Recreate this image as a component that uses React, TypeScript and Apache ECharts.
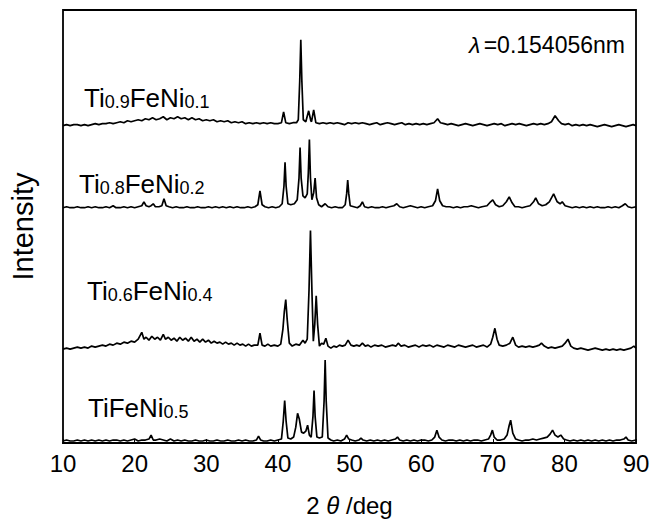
import React, { useEffect, useRef } from "react";
import * as echarts from "echarts";

const xTicks = [10, 20, 30, 40, 50, 60, 70, 80, 90];
const offsets = [321, 238, 95, 2];

const ti09: number[][] = [
[10,0],[10.5,1],[11,0],[11.5,1],[12,1],[12.5,0],[13,1],[13.5,0],[14,1],[14.5,2],[15,1],[15.5,2],[16,2],[16.5,3],[17,2],[17.5,3],[18,4],[18.5,3],[19,5],[19.5,4],[20,5],[20.5,6],[21,5],[21.5,7],[22,6],[22.5,8],[23,6],[23.5,7],[24,9],[24.5,6],[25,8],[25.5,7],[26,9],[26.5,7],[27,8],[27.5,6],[28,8],[28.5,6],[29,7],[29.5,5],[30,6],[30.5,5],[31,6],[31.5,4],[32,5],[32.5,4],[33,5],[33.5,3],[34,4],[34.5,3],[35,4],[35.5,2],[36,3],[36.5,2],[37,3],[37.5,2],[38,3],[38.5,2],[39,3],[39.5,2],[40,2],[40.5,3],[40.8,14],[41.1,3],[41.6,2],[42.1,3],[42.6,3],[42.85,6],[43.05,45],[43.2,87],[43.35,45],[43.55,6],[43.9,4],[44.3,15],[44.6,5],[44.7,4],[45.0,16],[45.3,3],[45.8,2],[46.3,3],[46.8,2],[47.3,3],[47.8,2],[48.3,3],[48.8,2],[49.3,1],[49.8,3],[50.3,2],[50.8,3],[51.3,2],[51.8,3],[52.3,2],[52.8,1],[53.3,2],[53.8,3],[54.3,1],[54.8,2],[55.3,3],[55.8,2],[56.3,1],[56.8,2],[57.3,3],[57.8,1],[58.3,2],[58.8,1],[59.3,2],[59.8,1],[60.3,2],[60.8,1],[61.3,2],[61.8,3],[62.3,7],[62.7,3],[63.2,2],[63.7,1],[64.2,2],[64.7,1],[65.2,0],[65.7,1],[66.2,2],[66.7,1],[67.2,0],[67.7,1],[68.2,2],[68.7,1],[69.2,0],[69.7,1],[70.2,2],[70.7,1],[71.2,2],[71.7,0],[72.2,1],[72.7,2],[73.2,1],[73.7,2],[74.2,1],[74.7,0],[75.2,1],[75.7,2],[76.2,1],[76.7,2],[77.2,1],[77.7,2],[78.2,4],[78.7,10],[79.2,5],[79.6,2],[80.1,1],[80.6,2],[81.1,0],[81.6,1],[82.1,0],[82.6,1],[83.1,0],[83.6,1],[84.1,0],[84.6,-1],[85.1,0],[85.6,1],[86.1,0],[86.6,-1],[87.1,0],[87.6,1],[88.1,0],[88.6,-1],[89.1,0],[89.6,1],[90,0]
];

const ti08: number[][] = [
[10,0],[10.5,1],[11,0],[11.5,0],[12,1],[12.5,0],[13,0],[13.5,1],[14,0],[14.5,1],[15,0],[15.5,0],[16,1],[16.5,0],[17,2],[17.4,0],[18,0],[18.5,1],[19,0],[19.5,1],[20,0],[20.5,1],[21,2],[21.3,6],[21.6,2],[22,1],[22.3,2],[22.6,4],[22.9,1],[23.4,1],[23.8,2],[24.1,9],[24.4,2],[24.8,1],[25.3,0],[25.8,1],[26.3,0],[26.8,0],[27.3,1],[27.8,0],[28.3,0],[28.8,1],[29.3,0],[29.8,0],[30.3,1],[30.8,0],[31.3,1],[31.8,0],[32.3,1],[32.8,0],[33.3,1],[33.8,0],[34.3,1],[34.8,0],[35.3,0],[35.8,1],[36.3,0],[36.8,1],[37.2,3],[37.5,17],[37.8,3],[38.2,1],[38.7,0],[39.2,1],[39.7,0],[40.2,1],[40.6,4],[40.85,22],[41.0,46],[41.15,22],[41.4,4],[41.8,3],[42.3,4],[42.7,8],[42.95,30],[43.1,61],[43.25,30],[43.5,12],[43.8,10],[44.1,14],[44.25,35],[44.4,69],[44.55,30],[44.75,8],[45.0,15],[45.2,30],[45.4,10],[45.7,3],[46.1,1],[46.6,4],[47.0,1],[47.5,0],[48,1],[48.5,0],[49.0,0],[49.4,3],[49.6,14],[49.75,28],[49.9,14],[50.1,2],[50.6,1],[51.1,0],[51.5,2],[51.8,6],[52.1,1],[52.6,0],[53.1,1],[53.6,0],[54.1,0],[54.6,1],[55.1,0],[55.6,1],[56.2,2],[56.6,4],[57.0,1],[57.5,0],[58.0,1],[58.5,2],[59.0,1],[59.5,0],[60,1],[60.5,0],[61,1],[61.6,2],[62.0,7],[62.3,19],[62.6,7],[63.0,2],[63.5,1],[64,1],[64.5,0],[65,1],[65.5,0],[66,1],[66.5,1],[67,2],[67.5,1],[68,0],[68.5,1],[69.2,2],[69.7,6],[70.0,8],[70.4,3],[70.9,1],[71.4,2],[71.9,6],[72.3,11],[72.7,5],[73.1,1],[73.6,1],[74.1,0],[74.6,1],[75.2,2],[75.7,6],[76.0,10],[76.4,4],[76.9,2],[77.4,3],[77.9,6],[78.5,14],[79.0,6],[79.4,4],[79.7,6],[80.1,2],[80.6,1],[81.1,0],[81.6,1],[82.1,0],[82.6,1],[83.1,0],[83.6,1],[84.1,0],[84.6,1],[85.1,0],[85.6,0],[86.1,1],[86.6,0],[87.1,1],[87.6,0],[88.1,2],[88.5,4],[88.9,1],[89.4,0],[90,1]
];

const ti06: number[][] = [
[10,0],[10.5,1],[11,0],[11.5,1],[12,2],[12.5,1],[13,2],[13.5,1],[14,3],[14.5,2],[15,3],[15.5,4],[16,3],[16.5,5],[17,4],[17.5,6],[18,5],[18.5,7],[19,6],[19.5,8],[20,7],[20.5,10],[21,17],[21.3,10],[21.6,12],[22,9],[22.4,13],[22.8,10],[23.2,12],[23.6,9],[24.0,15],[24.3,10],[24.7,12],[25.1,9],[25.5,11],[25.9,8],[26.3,12],[26.7,9],[27.1,11],[27.5,8],[27.9,12],[28.3,8],[28.7,10],[29.1,7],[29.5,10],[29.9,7],[30.3,9],[30.7,6],[31.1,8],[31.5,6],[31.9,7],[32.3,5],[32.7,7],[33.1,5],[33.5,6],[33.9,4],[34.3,6],[34.7,4],[35.1,5],[35.5,3],[35.9,5],[36.3,3],[36.7,4],[37.2,4],[37.5,16],[37.8,4],[38.2,3],[38.6,5],[39.0,3],[39.5,4],[40.0,3],[40.4,5],[40.7,20],[40.9,38],[41.1,50],[41.3,30],[41.6,6],[42.0,3],[42.5,5],[43.0,4],[43.5,9],[43.8,6],[44.1,10],[44.35,60],[44.55,120],[44.75,60],[44.95,8],[45.15,25],[45.35,54],[45.55,25],[45.8,3],[46.1,6],[46.4,5],[46.7,11],[47.0,3],[47.4,1],[47.8,3],[48.2,2],[48.6,4],[49.0,3],[49.4,4],[49.8,9],[50.2,4],[50.6,3],[51.0,4],[51.4,3],[51.8,6],[52.2,3],[52.6,4],[53.0,2],[53.5,4],[54.0,3],[54.5,4],[55.0,2],[55.5,3],[56.0,4],[56.5,3],[56.8,6],[57.2,3],[57.7,4],[58.2,2],[58.7,3],[59.2,4],[59.7,2],[60.2,4],[60.7,3],[61.2,4],[61.7,2],[62.2,4],[62.7,3],[63.2,2],[63.7,4],[64.2,3],[64.7,2],[65.2,4],[65.7,3],[66.2,2],[66.7,3],[67.2,4],[67.7,2],[68.2,3],[68.7,4],[69.2,2],[69.7,5],[70.0,12],[70.3,21],[70.6,10],[70.9,4],[71.4,3],[71.9,4],[72.4,6],[72.8,12],[73.2,4],[73.6,2],[74.1,3],[74.6,2],[75.1,3],[75.6,2],[76.1,3],[76.5,4],[76.8,6],[77.2,3],[77.7,1],[78.2,2],[78.7,1],[79.2,2],[79.7,3],[80.1,6],[80.5,10],[80.9,3],[81.3,1],[81.8,0],[82.3,1],[82.8,0],[83.3,-1],[83.8,0],[84.3,1],[84.8,0],[85.3,-1],[85.8,0],[86.3,-1],[86.8,0],[87.3,-1],[87.8,0],[88.3,-1],[88.8,0],[89.3,1],[89.7,3],[90,1]
];

const tifeni05: number[][] = [
[10,0],[10.5,1],[11,0],[11.5,0],[12,1],[12.5,0],[13,1],[13.5,0],[14,1],[14.5,0],[15,1],[15.5,0],[16,1],[16.5,0],[17,1],[17.5,1],[18,0],[18.5,1],[19,0],[19.5,1],[20,2],[20.5,0],[21,1],[21.5,1],[22,2],[22.3,6],[22.6,1],[23,1],[23.5,2],[24,1],[24.5,0],[25,2],[25.5,0],[26,1],[26.5,0],[27,1],[27.5,0],[28,0],[28.5,1],[29,0],[29.5,0],[30,1],[30.5,0],[31,0],[31.5,1],[32,0],[32.5,0],[33,1],[33.5,0],[34,0],[34.5,1],[35,0],[35.5,1],[36,0],[36.5,0],[37,1],[37.3,5],[37.6,1],[38,0],[38.5,0],[39,1],[39.5,0],[40,1],[40.5,2],[40.75,20],[40.95,41],[41.15,20],[41.4,3],[41.8,2],[42.2,4],[42.5,14],[42.75,28],[43.0,22],[43.3,9],[43.6,8],[43.9,10],[44.15,16],[44.4,6],[44.65,4],[44.9,25],[45.05,51],[45.2,25],[45.45,4],[45.8,3],[46.2,4],[46.45,40],[46.6,82],[46.75,40],[47.0,3],[47.4,1],[47.8,0],[48.3,1],[48.8,0],[49.3,2],[49.6,6],[49.9,2],[50.3,1],[50.8,0],[51.3,1],[51.6,3],[51.9,1],[52.4,0],[52.9,1],[53.4,0],[53.9,1],[54.4,0],[54.9,1],[55.4,0],[55.9,1],[56.4,2],[56.7,4],[57.0,1],[57.5,0],[58.0,1],[58.5,0],[59.0,1],[59.5,0],[60.0,1],[60.5,1],[61.0,0],[61.5,1],[61.9,4],[62.2,11],[62.5,4],[62.9,1],[63.4,0],[63.9,1],[64.4,1],[64.9,0],[65.4,1],[65.9,0],[66.4,1],[66.9,0],[67.4,1],[67.9,1],[68.4,0],[68.9,1],[69.4,2],[69.7,6],[69.95,11],[70.2,4],[70.6,1],[71.1,1],[71.6,2],[72.0,6],[72.3,16],[72.5,21],[72.8,8],[73.2,2],[73.6,1],[74.1,0],[74.6,1],[75.1,1],[75.6,2],[76.1,1],[76.6,2],[77.1,3],[77.6,4],[78.0,7],[78.35,11],[78.7,6],[79.1,4],[79.5,6],[79.9,2],[80.3,1],[80.8,0],[81.3,1],[81.8,0],[82.3,1],[82.8,0],[83.3,1],[83.8,0],[84.3,1],[84.8,0],[85.3,1],[85.8,0],[86.3,1],[86.8,0],[87.3,1],[87.8,1],[88.3,2],[88.6,4],[88.9,1],[89.4,0],[90,1]
];

const patterns = [ti09, ti08, ti06, tifeni05];

const FONT = "'Liberation Sans', Arial, sans-serif";

function sampleLabel(parts: string[], left: number, top: number) {
  const text = parts.map((p, i) => (i % 2 === 0 ? `{a|${p}}` : `{b|${p}}`)).join("");
  return {
    type: "text",
    left,
    top,
    style: {
      text,
      fill: "#000",
      rich: {
        a: { fontSize: 26, fontFamily: FONT, fill: "#000", verticalAlign: "bottom" },
        b: { fontSize: 18, fontFamily: FONT, fill: "#000", verticalAlign: "bottom" },
      },
    },
  };
}

export default function App() {
  const ref = useRef<HTMLDivElement>(null);
  useEffect(() => {
    document.body.style.margin = "0";
    if (!ref.current) return;
    const chart = echarts.init(ref.current, undefined, { renderer: "svg" });
    chart.setOption({
      animation: false,
      backgroundColor: "#fff",
      grid: {
        left: 60,
        right: 17,
        top: 10,
        bottom: 74,
        show: true,
        borderColor: "#000",
        borderWidth: 1.8,
        containLabel: false,
      },
      xAxis: {
        type: "value",
        min: xTicks[0],
        max: xTicks[xTicks.length - 1],
        interval: 10,
        axisLine: { show: true, lineStyle: { color: "#000", width: 1.8 } },
        axisTick: { show: true, inside: true, length: 4, lineStyle: { color: "#000" } },
        splitLine: { show: false },
        axisLabel: { color: "#000", fontSize: 24, fontFamily: FONT, margin: 8 },
        name: "{n|2 }{t|θ}{n| /deg}",
        nameLocation: "middle",
        nameGap: 50,
        nameTextStyle: {
          rich: {
            n: { fontSize: 24, fontFamily: FONT, color: "#000" },
            t: { fontSize: 24, fontFamily: FONT, color: "#000", fontStyle: "italic" },
          },
        },
      },
      yAxis: {
        type: "value",
        min: 0,
        max: 438,
        axisLine: { show: false },
        axisTick: { show: false },
        axisLabel: { show: false },
        splitLine: { show: false },
        name: "Intensity",
        nameLocation: "middle",
        nameGap: 26,
        nameTextStyle: { fontSize: 29, fontFamily: FONT, color: "#000" },
      },
      series: patterns.map((p, k) => ({
        type: "line",
        data: p.map((d) => [d[0], d[1] + offsets[k]]),
        showSymbol: false,
        symbol: "none",
        lineStyle: { color: "#000", width: 1.7 },
        clip: true,
      })),
      graphic: [
        sampleLabel(["Ti", "0.9", "FeNi", "0.1"], 84, 85),
        sampleLabel(["Ti", "0.8", "FeNi", "0.2"], 79, 171),
        sampleLabel(["Ti", "0.6", "FeNi", "0.4"], 87, 278),
        sampleLabel(["TiFeNi", "0.5"], 88, 395),
        {
          type: "text",
          right: 28,
          top: 33,
          style: {
            text: "{l|λ} {n|=0.154056nm}",
            rich: {
              l: { fontSize: 23, fontFamily: FONT, fill: "#000", fontStyle: "italic" },
              n: { fontSize: 23, fontFamily: FONT, fill: "#000" },
            },
          },
        },
      ],
    });
    return () => chart.dispose();
  }, []);
  return <div ref={ref} style={{ width: 653, height: 522 }} />;
}
